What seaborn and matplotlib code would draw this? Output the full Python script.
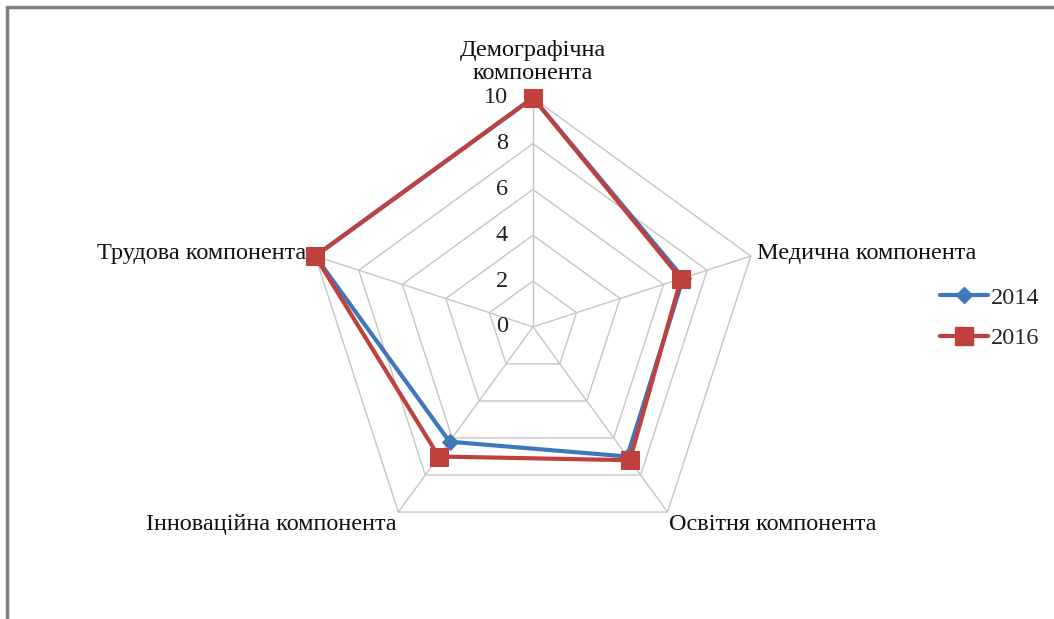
import numpy as np
import pandas as pd
import matplotlib
matplotlib.use("Agg")
import matplotlib.pyplot as plt
import matplotlib.transforms as mtransforms
from matplotlib.lines import Line2D
import seaborn as sns

categories = ["Демографічна\nкомпонента", "Медична компонента", "Освітня компонента",
              "Інноваційна компонента", "Трудова компонента"]
values_2014 = [10, 6.9, 7.0, 6.2, 10]
values_2016 = [10, 6.8, 7.2, 7.0, 10]
years = ["2014", "2016"]
r_ticks = [0, 2, 4, 6, 8, 10]

sns.set_theme(style="white")
plt.rcParams["font.family"] = ["Liberation Serif", "DejaVu Serif"]

blue = "#3f77bd"
red = "#c0403d"
grid_c = "#c6c6c6"

n = len(categories)
angles = np.linspace(0, 2 * np.pi, n, endpoint=False)
theta = np.append(angles, angles[0])

rows = []
for yr, vals in zip(years, [values_2014, values_2016]):
    for t, v in zip(theta, vals + vals[:1]):
        rows.append({"year": yr, "theta": t, "value": v})
df = pd.DataFrame(rows)

fig = plt.figure(figsize=(10.54, 6.19), dpi=100)
ax = fig.add_axes([0.2884, 0.102, 0.4345, 0.740], projection="polar")
ax.set_theta_offset(np.pi / 2)
ax.set_theta_direction(-1)
ax.set_ylim(0, 10)
ax.grid(False)
ax.spines["polar"].set_visible(False)
ax.set_xticks([])
ax.set_yticks([])
ax.patch.set_alpha(0)

# pentagon grid + spokes
for lv in r_ticks[1:]:
    ax.plot(theta, [lv] * len(theta), color=grid_c, lw=1, zorder=1, clip_on=False)
for a in angles:
    ax.plot([a, a], [0, 10], color=grid_c, lw=1, zorder=1, clip_on=False)

sns.lineplot(data=df[df.year == "2014"], x="theta", y="value", sort=False, estimator=None,
             color=blue, lw=3, marker="D", markersize=8, markeredgecolor=blue,
             ax=ax, zorder=3, legend=False, clip_on=False)
sns.lineplot(data=df[df.year == "2016"], x="theta", y="value", sort=False, estimator=None,
             color=red, lw=3, marker="s", markersize=13, markeredgecolor=red,
             ax=ax, zorder=4, legend=False, clip_on=False)
ax.set_xlabel("")
ax.set_ylabel("")
ax.set_ylim(0, 10)

fs = 17.5
# radial tick labels
off = mtransforms.offset_copy(ax.transData, fig=fig, x=-25, y=0, units="dots")
for lv in r_ticks:
    ax.text(0, lv, str(lv), transform=off, ha="right", va="center", fontsize=fs, color="#222222")

# category labels
label_pos = [(10.6, "center", "bottom", 1.12), (10.3, "left", "center", 1.0),
             (10.1, "left", "top", 1.0), (10.1, "right", "top", 1.0),
             (10.4, "right", "center", 1.0)]
for a, lab, (r, ha, va, ls) in zip(angles, categories, label_pos):
    ax.text(a, r, lab, ha=ha, va=va, fontsize=fs, color="#111111", linespacing=ls)

handles = [Line2D([], [], color=blue, lw=3, marker="D", markersize=8),
           Line2D([], [], color=red, lw=3, marker="s", markersize=13)]
fig.legend(handles, years, loc="center left", bbox_to_anchor=(918 / 1054, 1 - 318 / 619),
           frameon=False, fontsize=fs, handlelength=2.0, handletextpad=0.1, labelspacing=0.75)

# frame edge visible in the top/left of the original
fig.add_artist(Line2D([7 / 1054, 7 / 1054], [0, 1 - 7 / 619], color="#808080", lw=2.5,
                      transform=fig.transFigure))
fig.add_artist(Line2D([7 / 1054, 1], [1 - 7 / 619, 1 - 7 / 619], color="#808080", lw=2.5,
                      transform=fig.transFigure))

fig.savefig("out.png", dpi=100, facecolor="white")
